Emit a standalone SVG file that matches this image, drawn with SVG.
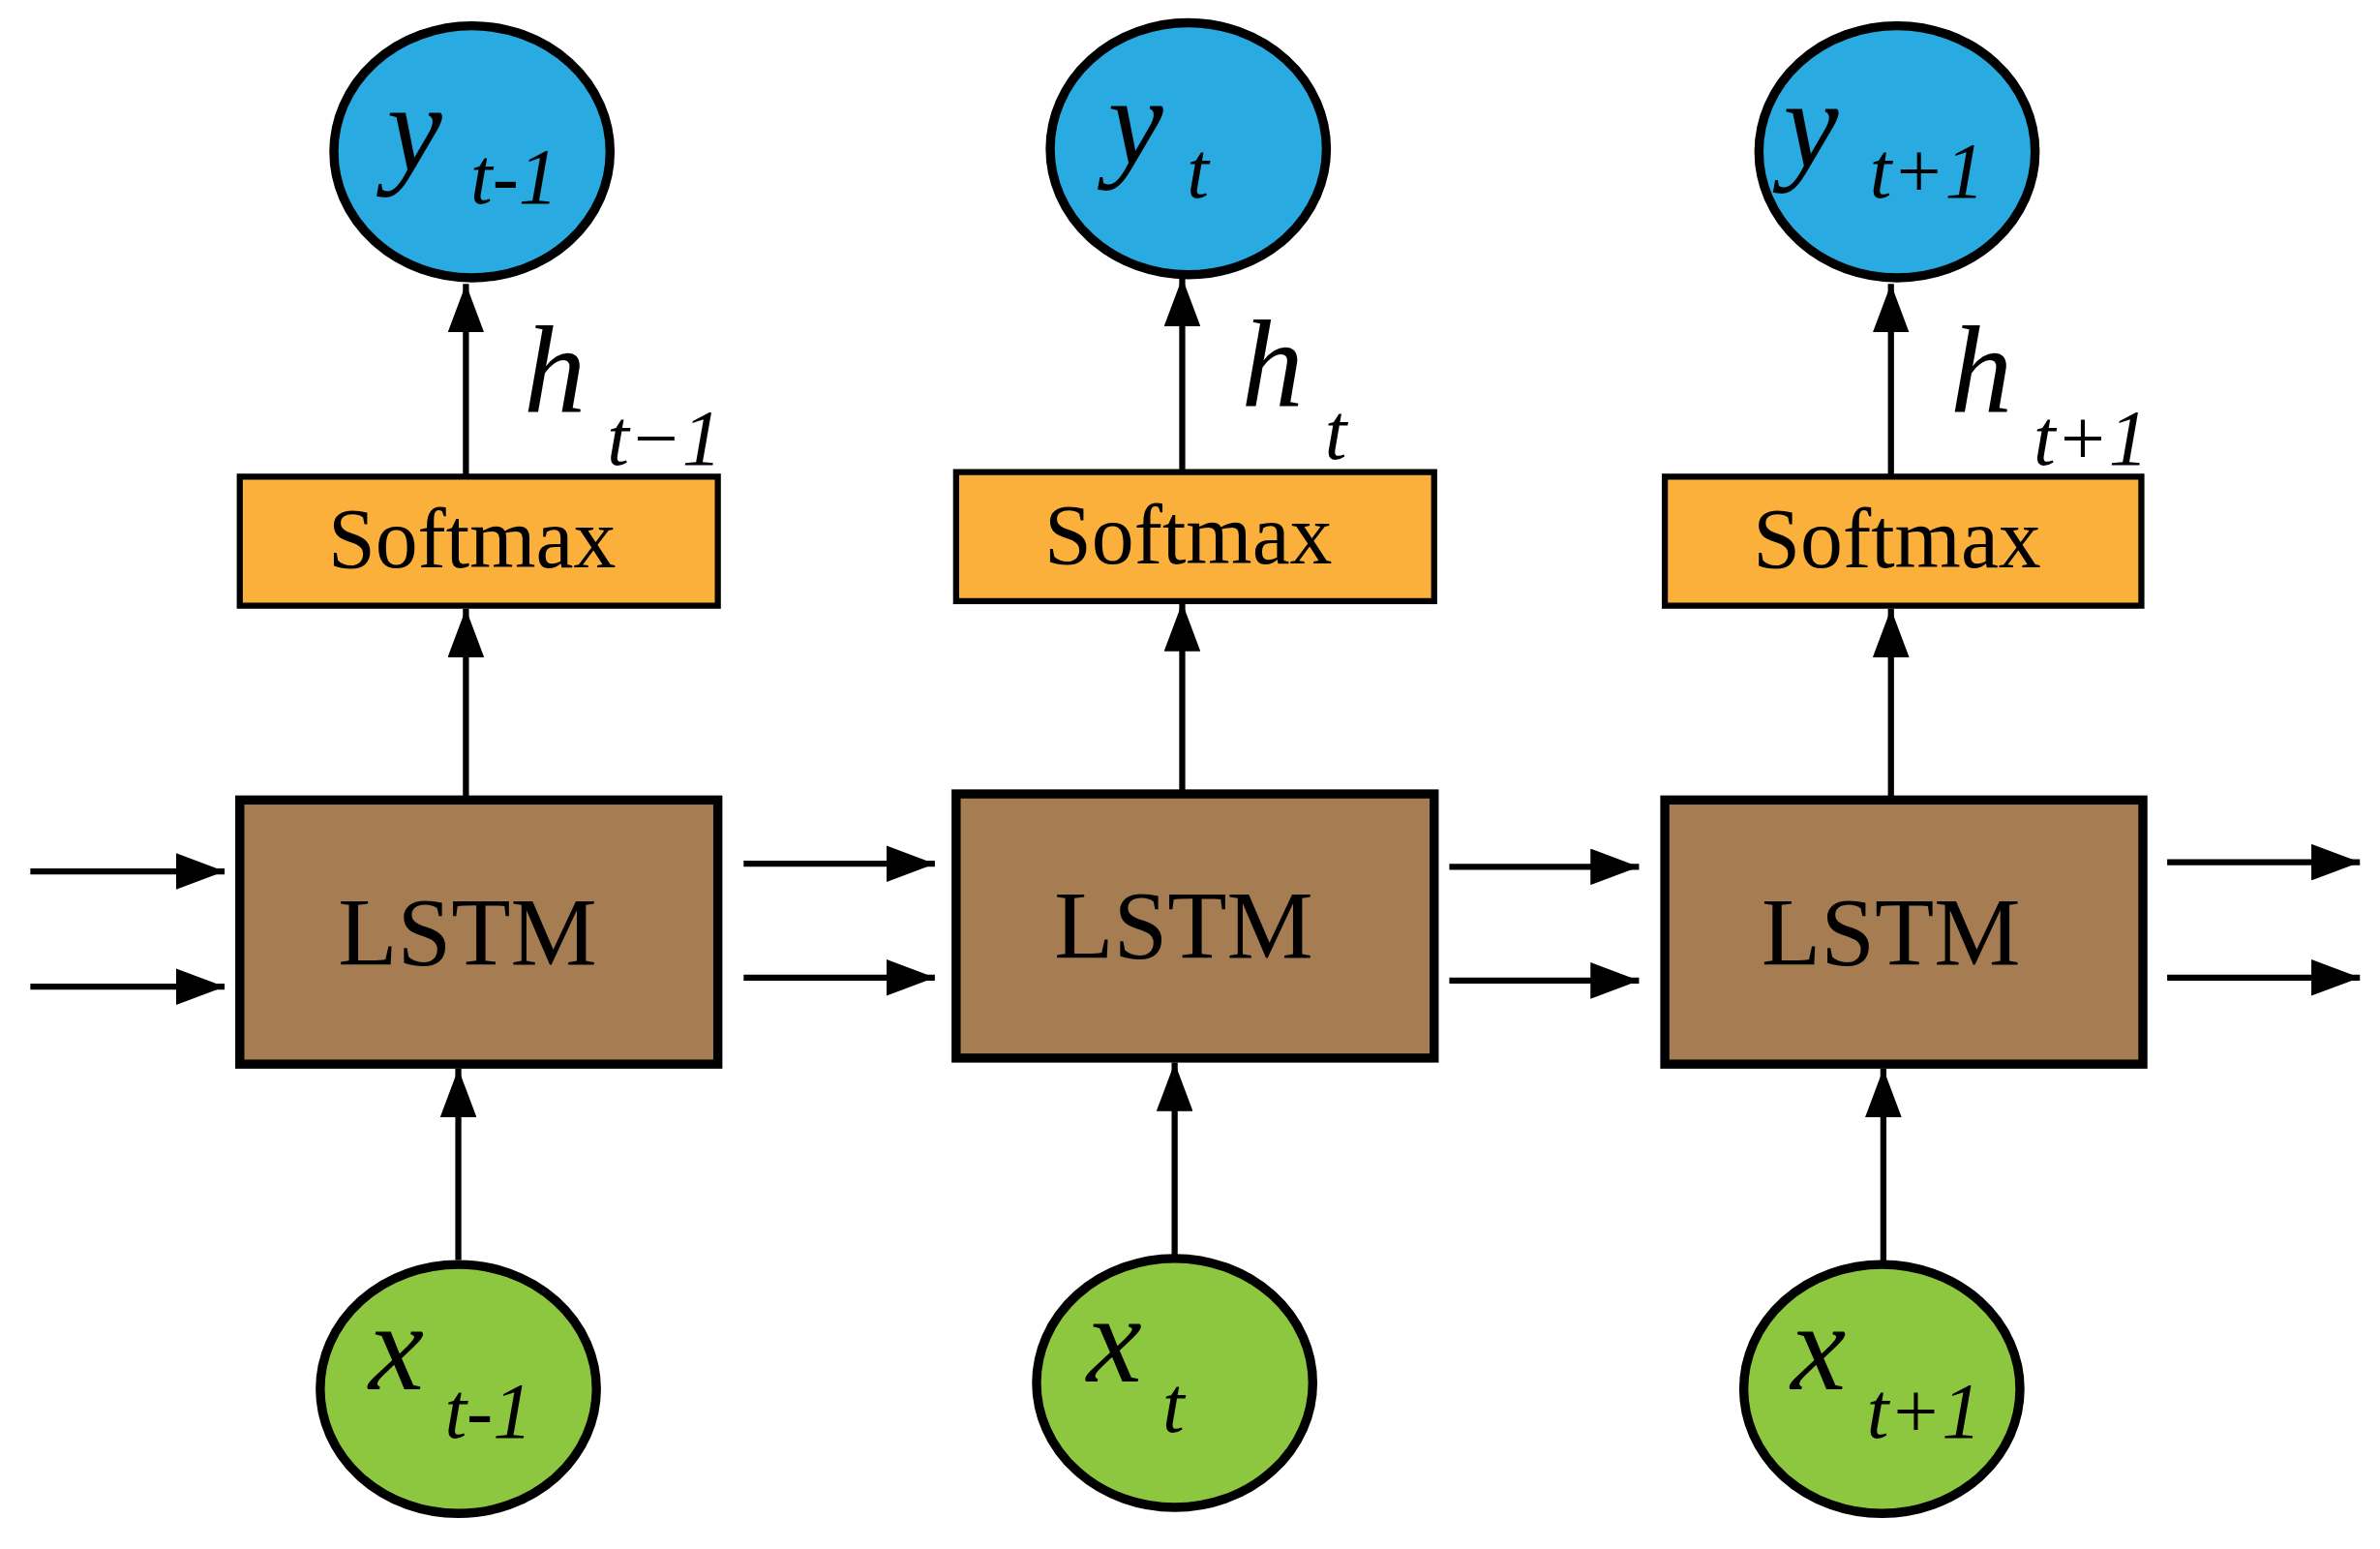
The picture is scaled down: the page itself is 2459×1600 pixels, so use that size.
<svg xmlns="http://www.w3.org/2000/svg" width="2459" height="1600" viewBox="0 0 2459 1600">
<defs>
<marker id="ah" markerWidth="8" markerHeight="6" refX="8" refY="3" orient="auto" markerUnits="strokeWidth"><path d="M0,0 L8,3 L0,6 z" fill="#000"/></marker>
<style>
.y{fill:#29ABE2;stroke:#000;stroke-width:6}
.x{fill:#8DC63F;stroke:#000;stroke-width:6}
.s{fill:#FBB03B;stroke:#000;stroke-width:4}
.l{fill:#A67C52;stroke:#000;stroke-width:6}
.c line{stroke:#000;stroke-width:4;marker-end:url(#ah)}
text{font-family:"Liberation Serif","Times New Roman",serif;fill:#000}
.it{font-style:italic}
.bx{font-size:56px;text-anchor:middle}
.lb{font-size:64px;text-anchor:middle}
.v{font-size:82px}
.sub{font-size:52px}
</style>
</defs>
<rect width="2459" height="1600" fill="#fff"/>
<g transform="scale(1.568)">
<g class="c">
<line x1="307" y1="527" x2="307" y2="401"/>
<line x1="307" y1="314" x2="307" y2="187"/>
<line x1="302" y1="830" x2="302" y2="704"/>
<line x1="779" y1="523" x2="779" y2="397"/>
<line x1="779" y1="311" x2="779" y2="183"/>
<line x1="774" y1="827" x2="774" y2="700"/>
<line x1="1246" y1="527" x2="1246" y2="401"/>
<line x1="1246" y1="314" x2="1246" y2="187"/>
<line x1="1241" y1="831" x2="1241" y2="704"/>
<line x1="20" y1="574" x2="148" y2="574"/>
<line x1="20" y1="650" x2="148" y2="650"/>
<line x1="490" y1="569" x2="616" y2="569"/>
<line x1="490" y1="644" x2="616" y2="644"/>
<line x1="955" y1="571" x2="1080" y2="571"/>
<line x1="955" y1="646" x2="1080" y2="646"/>
<line x1="1428" y1="568" x2="1555" y2="568"/>
<line x1="1428" y1="644" x2="1555" y2="644"/>
</g>
<g id="y1"><ellipse class="y" cx="311" cy="100" rx="91" ry="83"/><text class="it v" x="255" y="112">y</text><text class="it sub" x="310" y="134">t-1</text></g>
<g id="y2"><ellipse class="y" cx="783" cy="98" rx="91" ry="83"/><text class="it v" x="730" y="108">y</text><text class="it sub" x="782" y="130">t</text></g>
<g id="y3"><ellipse class="y" cx="1250" cy="100" rx="91" ry="83"/><text class="it v" x="1175" y="110">y</text><text class="it sub" x="1232" y="130">t+1</text></g>
<g id="s1"><rect class="s" x="158" y="314" width="315" height="85"/><text class="bx" x="311" y="374">Softmax</text></g>
<g id="s2"><rect class="s" x="630" y="311" width="315" height="85"/><text class="bx" x="783" y="371">Softmax</text></g>
<g id="s3"><rect class="s" x="1097" y="314" width="314" height="85"/><text class="bx" x="1250" y="374">Softmax</text></g>
<g id="h1"><text class="it v" x="345" y="272">h</text><text class="it sub" x="400" y="306">t−1</text></g>
<g id="h2"><text class="it v" x="818" y="268">h</text><text class="it sub" x="873" y="302">t</text></g>
<g id="h3"><text class="it v" x="1285" y="272">h</text><text class="it sub" x="1340" y="306">t+1</text></g>
<g id="l1"><rect class="l" x="158" y="527" width="315" height="174"/><text class="lb" x="308" y="635">LSTM</text></g>
<g id="l2"><rect class="l" x="630" y="523" width="315" height="174"/><text class="lb" x="780" y="631">LSTM</text></g>
<g id="l3"><rect class="l" x="1097" y="527" width="315" height="174"/><text class="lb" x="1246" y="635">LSTM</text></g>
<g id="x1"><ellipse class="x" cx="302" cy="915" rx="91" ry="82"/><text class="it v" x="243" y="915">x</text><text class="it sub" x="293" y="947">t-1</text></g>
<g id="x2"><ellipse class="x" cx="774" cy="911" rx="91" ry="82"/><text class="it v" x="716" y="910">x</text><text class="it sub" x="766" y="943">t</text></g>
<g id="x3"><ellipse class="x" cx="1240" cy="915" rx="91" ry="82"/><text class="it v" x="1180" y="915">x</text><text class="it sub" x="1230" y="947">t+1</text></g>
</g>
</svg>
